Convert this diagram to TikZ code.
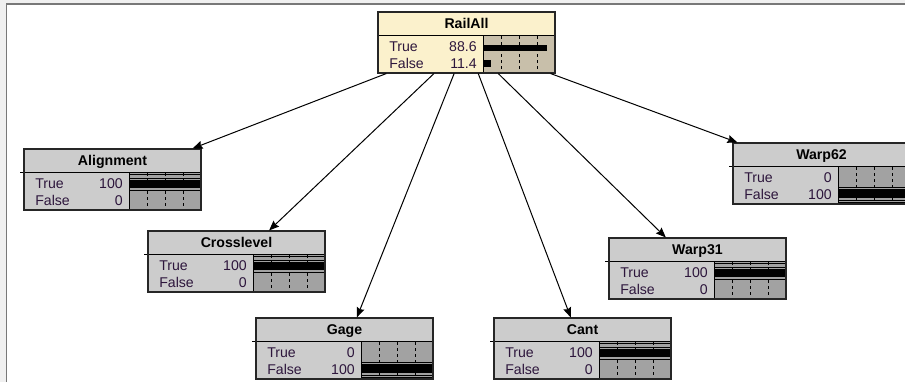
\documentclass[tikz,border=0pt]{standalone}
\usepackage{fontspec}
\setmainfont{Liberation Sans}
\usetikzlibrary{arrows.meta}
\definecolor{cream}{RGB}{251,241,204}
\definecolor{tanbar}{RGB}{200,191,170}
\definecolor{lgray}{RGB}{204,204,204}
\definecolor{dgray}{RGB}{162,162,162}
\definecolor{txt}{RGB}{45,22,60}
\definecolor{outer}{RGB}{240,240,240}
\definecolor{framec}{RGB}{120,120,120}
\tikzset{
  bnbox/.style={draw=black!85, line width=0.8pt, rectangle, minimum width=132.75pt, minimum height=45.75pt, inner sep=0pt},
  ttl/.style={font=\bfseries\fontsize{10.6}{12}\selectfont, text=black, inner sep=0pt, text height=7.5pt, text depth=0pt},
  lbl/.style={font=\fontsize{10.6}{12}\selectfont, text=txt, inner sep=0pt, anchor=west, text height=7.5pt, text depth=0pt},
  val/.style={font=\fontsize{10.6}{12}\selectfont, text=txt, inner sep=0pt, anchor=east, text height=7.5pt, text depth=0pt},
  gridl/.style={line width=0.75pt, dash pattern=on 2.25pt off 2.25pt, black},
  thinl/.style={line width=0.6pt, black},
  arr/.style={line width=0.75pt, black, -{Stealth[length=7.5pt,width=6pt,inset=1pt]}},
}
% #1 name, #2 x0, #3 y0, #4 title, #5 true value, #6 false value, #7 label fill, #8 bar fill, #9 bars
\newcommand{\bnnode}[9]{%
  \node[bnbox, fill=#7] (#1) at (#2+88.5,#3+30.5) {};
  \begin{scope}[shift={(#2,#3)}]
    \fill[#8] (105,23) rectangle (177,61);
    \foreach \gx in {123,141,159} \draw[gridl] (\gx,24) -- (\gx,61);
    #9
    \draw[thinl, line width=0.75pt] (105,23) -- (105,61);
    \draw[thinl, line width=0.75pt] (0,23) -- (177,23);
    \node[ttl] (#1-title) at (88.5,11.5) {#4};
    \node[lbl] (#1-lt) at (11,34) {True};
    \node[lbl] (#1-lf) at (11,51) {False};
    \node[val] (#1-vt) at (99,34) {#5};
    \node[val] (#1-vf) at (99,51) {#6};
    \draw[draw=black!85, line width=0.8pt] (0,0) rectangle (177,61);
  \end{scope}
}
\newcommand{\fullT}{\draw[thinl] (105,25)--(177,25) (105,29)--(177,29) (105,41)--(177,41); \fill[black] (105,31) rectangle (177,39);}
\newcommand{\fullF}{\draw[thinl] (105,44)--(177,44) (105,57)--(177,57) (105,59)--(177,59); \fill[black] (105,46) rectangle (177,55);}
\newcommand{\divext}{\draw[thinl, line width=0.75pt] (-4,23) -- (0,23);}
\begin{document}
\begin{tikzpicture}[x=0.75pt,y=-0.75pt]
  \useasboundingbox (0,0) rectangle (905,382);
  \clip (0,0) rectangle (905,382);
  \fill[outer] (0,0) rectangle (905,382);
  \fill[white] (6.5,4) rectangle (905,382);
  \draw[framec, line width=1.1pt] (6.5,382) -- (6.5,4) -- (905,4);

  \bnnode{rail}{378}{12}{RailAll}{88.6}{11.4}{cream}{tanbar}{\fill[black] (105,33) rectangle (168.8,39); \fill[black] (105,48) rectangle (113.2,55);}
  \bnnode{align}{24}{149}{Alignment}{100}{0}{lgray}{dgray}{\fullT\divext}
  \bnnode{cross}{148}{231}{Crosslevel}{100}{0}{lgray}{dgray}{\fullT\divext}
  \bnnode{gage}{256}{318}{Gage}{0}{100}{lgray}{dgray}{\fullF\divext}
  \bnnode{cant}{494}{318}{Cant}{100}{0}{lgray}{dgray}{\fullT\divext}
  \bnnode{warpa}{609}{238}{Warp31}{100}{0}{lgray}{dgray}{\fullT\divext}
  \bnnode{warpb}{733}{143}{Warp62}{0}{100}{lgray}{dgray}{\fullF\divext}

  \draw[arr] (rail) -- (align);
  \draw[arr] (rail) -- (cross);
  \draw[arr] (rail) -- (gage);
  \draw[arr] (rail) -- (cant);
  \draw[arr] (rail) -- (warpa);
  \draw[arr] (rail) -- (warpb);
\end{tikzpicture}
\end{document}
